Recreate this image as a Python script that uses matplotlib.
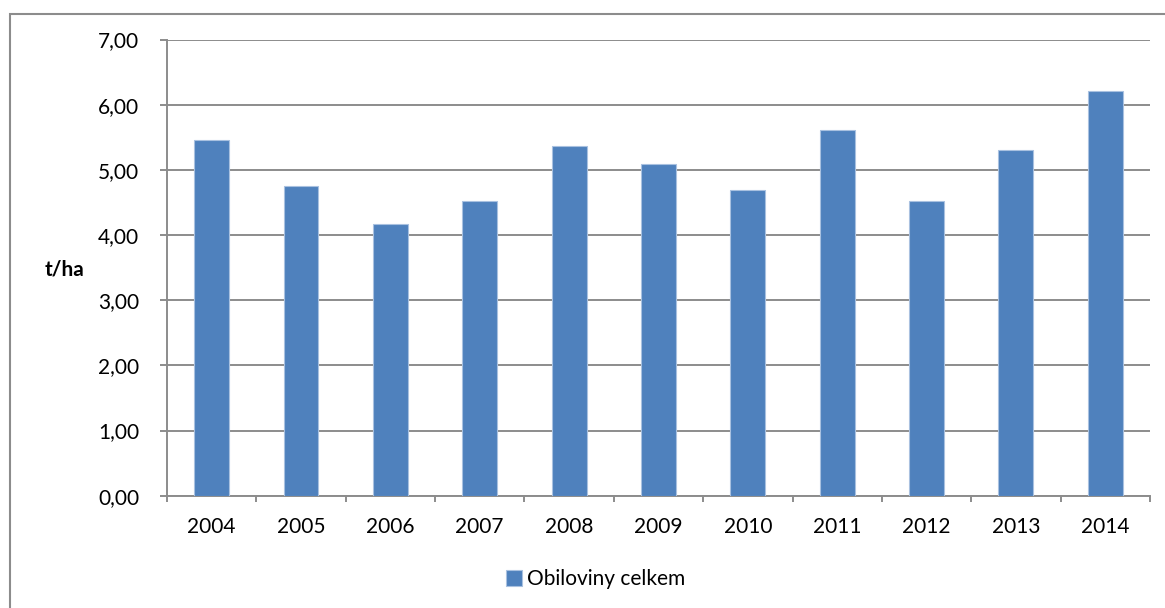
import matplotlib.pyplot as plt
from matplotlib.patches import Rectangle
from matplotlib.ticker import FuncFormatter

years = ['2004', '2005', '2006', '2007', '2008', '2009', '2010', '2011', '2012', '2013', '2014']
yields = [5.46, 4.75, 4.17, 4.52, 5.36, 5.09, 4.69, 5.61, 4.52, 5.30, 6.21]

plt.rcParams['font.family'] = ['Lato', 'DejaVu Sans']

fig = plt.figure(figsize=(11.65, 6.08), dpi=100)
ax = fig.add_axes([0.1433, 0.1847, 0.8438, 0.7503])

# outer chart border (partly cut off on the right and bottom)
fig.patches.append(Rectangle((9.5/1165, -0.1), 1.2, 1 - 14/608 + 0.1, transform=fig.transFigure,
                             fill=False, edgecolor='#8c8c8c', linewidth=1.5))

x = range(len(years))
ax.bar(x, yields, width=0.39, color='#4F81BD', edgecolor='#A9C1E0', linewidth=0.8,
       label='Obiloviny celkem', zorder=3)

ax.set_xlim(-0.5, len(years) - 0.5)
ax.set_ylim(0, 7)
ax.set_yticks(range(8))
ax.yaxis.set_major_formatter(FuncFormatter(lambda v, p: f'{v:.2f}'.replace('.', ',')))
ax.grid(axis='y', color='#8c8c8c', linewidth=1.4, zorder=0)

ax.set_xticks(x)
ax.set_xticklabels(years)
ax.set_xticks([i - 0.5 for i in range(len(years) + 1)], minor=True)
ax.tick_params(axis='x', which='major', length=0, pad=15.5, labelsize=15)
ax.tick_params(axis='x', which='minor', length=4, width=1.4, color='#8c8c8c')
ax.tick_params(axis='y', length=5, width=1.4, color='#8c8c8c', pad=15, labelsize=15)

for s in ['top', 'right']:
    ax.spines[s].set_visible(False)
for s in ['left', 'bottom']:
    ax.spines[s].set_color('#8c8c8c')
    ax.spines[s].set_linewidth(1.4)

ax.set_ylabel('t/ha', rotation=0, fontsize=15, fontweight='bold', ha='right', va='center')
ax.yaxis.set_label_coords(-0.0844, 0.495)

fig.legend(loc='center', bbox_to_anchor=(0.511, 1 - 579/608), frameon=False, fontsize=15,
           handlelength=0.8, handleheight=0.8, handletextpad=0.2)

fig.savefig('out.png', dpi=100)
